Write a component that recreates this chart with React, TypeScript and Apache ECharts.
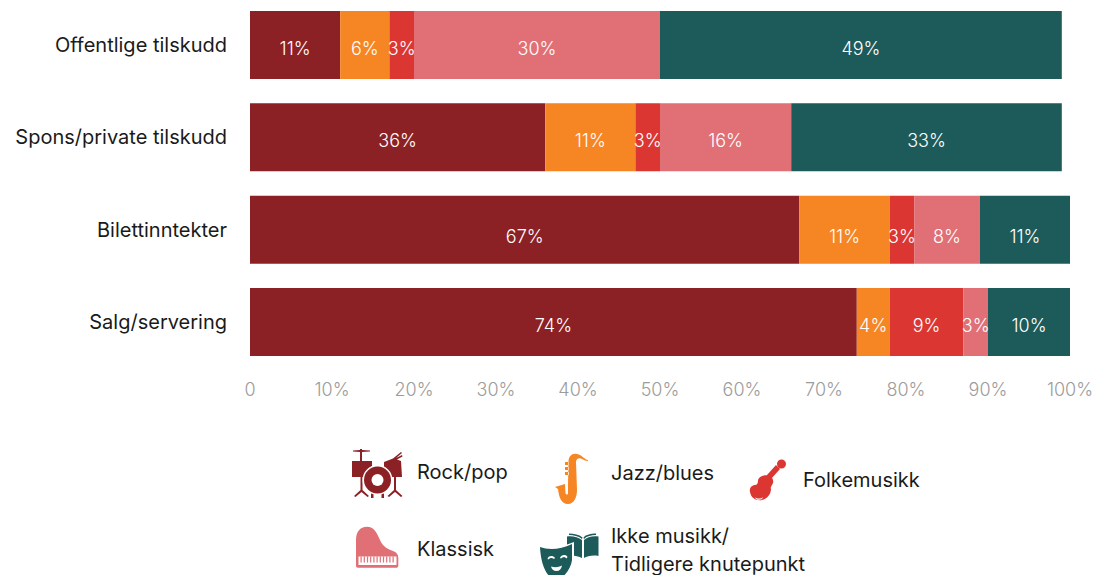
import React, { useEffect, useRef } from "react";
import * as echarts from "echarts";

const sources = ["Offentlige tilskudd", "Spons/private tilskudd", "Bilettinntekter", "Salg/servering"];
const rockPop = [11, 36, 67, 74];
const jazzBlues = [6, 11, 11, 4];
const folkemusikk = [3, 3, 3, 9];
const klassisk = [30, 16, 8, 3];
const ikkeMusikk = [49, 33, 11, 10];

const RED = "#8C2125";
const ORANGE = "#F68523";
const BRIGHT = "#DC3633";
const PINK = "#E06F76";
const TEAL = "#1D5B5A";
const FONT = "Inter";

const genres = [
  { name: "Rock/pop", values: rockPop, color: RED },
  { name: "Jazz/blues", values: jazzBlues, color: ORANGE },
  { name: "Folkemusikk", values: folkemusikk, color: BRIGHT },
  { name: "Klassisk", values: klassisk, color: PINK },
  { name: "Ikke musikk/Tidligere knutepunkt", values: ikkeMusikk, color: TEAL },
];

// Vertical nudge of the value labels, one entry per row
const labelDrop = [3, 3, 7, 3];

// Legend pictograms, written in page coordinates
const iconPaths: Record<string, string> = {
  drumKit:
    "M353 450.5L360 450L360 449L362 449L362 450L370 450.5L370 451.5L362 452L362 461L372 461L372 477L362.5 477L362.5 490L369 496L367.5 497L361.5 492L355.5 497L354 496L360.5 490L360.5 477L352 477L352 461L360 461L360 452L353 451.5Z" +
    "M384 462L393 458.5L401 452L402 453L396 458L402 455L402.5 456.5L397 459.5L401 461L402 477L396 477L396 490L402.5 496L401 497L395 492L389 497L387.5 496L394 490L394 477L384 477Z" +
    "M371 490L373.5 490L373.5 498L371 498Z M381.5 490L384 490L384 498L381.5 498Z",
  drumGap: "M362.5 480a15 15 0 1 0 30 0a15 15 0 1 0 -30 0Z",
  bassDrum: "M364 480a13.5 13.5 0 1 0 27 0a13.5 13.5 0 1 0 -27 0Z",
  bassHole: "M371.5 480a6 6 0 1 0 12 0a6 6 0 1 0 -12 0Z",
  sax:
    "M588 460C585 460 582 455 577 454C572 453 569 456 568.5 461L568 485L568 493C568 495 566 495 565.5 493L565 484L555 487L558 489C559 497 561 504 568 504C574 504 577 497 577 490L576 462C576 459 579 457 582 459C584 460 586 461 588 461Z" +
    "M565 462L569 462L569 465L565 465Z M565 467L569 467L569 470L565 470Z M565 472L569 472L569 475L565 475Z",
  violin:
    "M768 475C772 476 774 480 773 483C772 486 770 487 771 489C771 494 767 499 762 500C756 501 751 498 750 492C749 488 752 485 755 485C757 485 758 483 758 481C758 477 763 475 768 475Z" +
    "M776 465L780 469L771 479L767 475Z M777 464a4.5 4.5 0 1 0 9 0a4.5 4.5 0 1 0 -9 0Z",
  violinSlit: "M755 497C757 499 761 499 763 497L762 499C760 500 757 500 756 499Z",
  piano:
    "M356 540C356 532 360 526.7 367 526.7C374 526.7 377 533 380 540C383 547 388 549 393 551C396 552 398.3 554 398.3 558L398.3 566Q398.3 567.7 396.5 567.7L358 567.7Q356 567.7 356 566Z",
  pianoKeys: "M358.5 556.5L396.5 556.5L396.5 565L358.5 565Z",
  bookPages:
    "M567 536.5C572 535.5 578 537 582 540L582 558C578 556 572 555 567 556Z" +
    "M584 558L584 540C587 537 593 535.5 598.5 536.5L598.5 556C593 555 587 556 584 558Z" +
    "M569 533.5C574 533.5 579 534.5 582.5 537.5L582 539C578 536 574 535 569 535Z" +
    "M583.5 537.5C586 534.5 591 533.5 596 533.5L596 535C591 535 587 536 584 539Z",
  maskGap: "M538 545C548 548 560 548 574 542L574 560C573 568 567 580 556 582C545 580 539 566 538 545Z",
  mask: "M540 547C548 550 560 550 572 544L572 560C571 568 565 578 556 580C547 578 541 566 540 547Z",
  maskFace:
    "M547.5 559C548 555.5 553 555 555 558L554 559C552 557.5 550 557.5 548.5 559.5Z" +
    "M560 558C561 554.5 566 554 567.5 557L566.5 558.5C565 556.5 563 556.5 561 558.5Z" +
    "M551 566.5C555 567.5 558 567.5 562 565.5C561.5 569 559.5 571 556.5 571C553.5 571 551.5 569 551 566.5Z",
};

Object.entries(iconPaths).forEach(([name, d]) => {
  echarts.graphic.registerShape(name, echarts.graphic.extendPath(d, {}) as any);
});

const icon = (type: string, fill: string) => ({ type, x: 0, y: 0, silent: true, style: { fill } });

const pianoBlackKeys = Array.from({ length: 11 }, (_, i) => ({
  type: "rect",
  silent: true,
  shape: { x: 360.5 + i * 3.2, y: 556.5, width: 1.2, height: 6 },
  style: { fill: PINK },
}));

const legendText = (text: string, x: number, y: number) => ({
  type: "text",
  x,
  y,
  silent: true,
  style: { text, fill: "#1a1a1a", font: `20px ${FONT}`, textAlign: "left", textVerticalAlign: "middle" },
});

const legendGraphics = [
  icon("drumKit", RED),
  icon("drumGap", "#ffffff"),
  icon("bassDrum", RED),
  icon("bassHole", "#ffffff"),
  icon("sax", ORANGE),
  icon("violin", BRIGHT),
  icon("violinSlit", "#ffffff"),
  icon("piano", PINK),
  icon("pianoKeys", "#ffffff"),
  ...pianoBlackKeys,
  icon("bookPages", TEAL),
  icon("maskGap", "#ffffff"),
  icon("mask", TEAL),
  icon("maskFace", "#ffffff"),
  legendText("Rock/pop", 417, 472),
  legendText("Jazz/blues", 611, 473),
  legendText("Folkemusikk", 803, 480),
  legendText("Klassisk", 417, 549),
  legendText("Ikke musikk/", 611, 536),
  legendText("Tidligere knutepunkt", 611, 564),
];

export default function App() {
  const ref = useRef<HTMLDivElement>(null);

  useEffect(() => {
    document.body.style.margin = "0";
    const chart = echarts.init(ref.current!, null, { renderer: "svg" });
    chart.setOption({
      animation: false,
      backgroundColor: "#ffffff",
      // The category axis runs through the row centres, so the grid spans first to last row
      grid: { left: 250, top: 45, width: 820, height: 277, containLabel: false },
      xAxis: {
        type: "value",
        min: 0,
        max: 100,
        interval: 10,
        axisLine: { show: false },
        axisTick: { show: false },
        splitLine: { show: false },
        axisLabel: {
          color: "#9c9c9c",
          fontFamily: FONT,
          fontSize: 18,
          fontWeight: 300,
          margin: 58,
          formatter: (v: number) => (v === 0 ? "0" : `${v}%`),
        },
      },
      yAxis: {
        type: "category",
        inverse: true,
        boundaryGap: false,
        data: sources,
        axisLine: { show: false },
        axisTick: { show: false },
        splitLine: { show: false },
        axisLabel: { color: "#1a1a1a", fontFamily: FONT, fontSize: 20, margin: 23 },
      },
      series: genres.map((g) => ({
        name: g.name,
        type: "bar",
        stack: "share",
        barWidth: 68,
        clip: false,
        data: g.values.map((value, row) => ({
          value,
          label: { offset: [0, labelDrop[row]] },
        })),
        itemStyle: { color: g.color },
        label: {
          show: true,
          position: "inside",
          color: "#ffffff",
          fontFamily: FONT,
          fontSize: 18,
          fontWeight: 300,
          formatter: (p: any) => `${p.value}%`,
        },
      })),
      graphic: { elements: legendGraphics },
    });
    return () => chart.dispose();
  }, []);

  return <div ref={ref} style={{ width: 1097, height: 575 }} />;
}
